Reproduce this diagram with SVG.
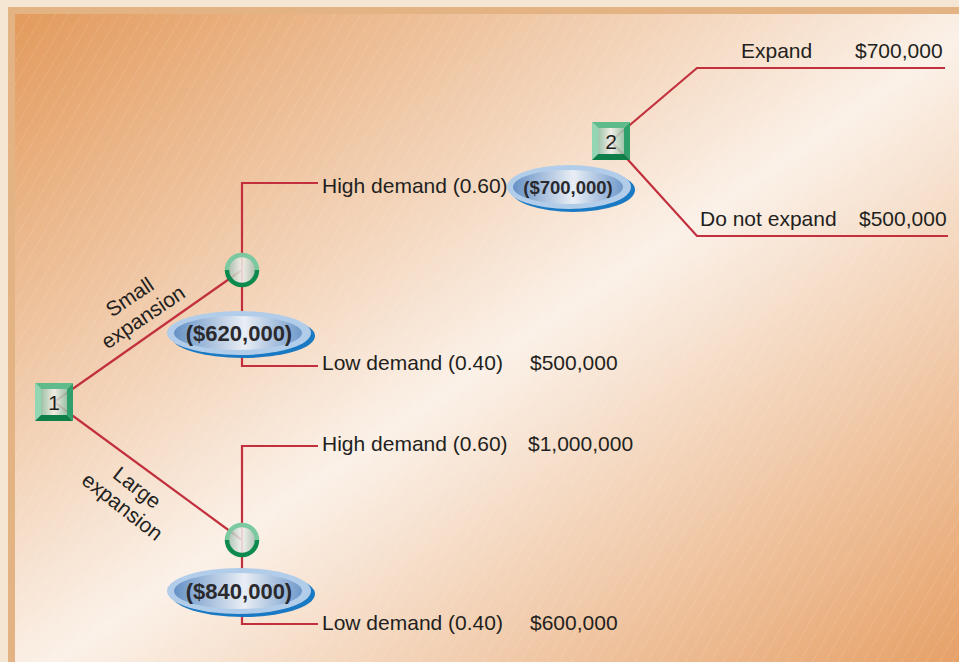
<svg xmlns="http://www.w3.org/2000/svg" width="959" height="662" viewBox="0 0 959 662">
<style>
.t{font-family:"Liberation Sans",Arial,sans-serif;font-size:21px;fill:#231f20}
.v{font-family:"Liberation Sans",Arial,sans-serif;font-size:22px;font-weight:bold;fill:#2a2a2e;text-anchor:middle}
.ln{stroke:#c2303e;stroke-width:2.2;fill:none}
</style>
<defs>
<linearGradient id="bg" x1="0" y1="0" x2="1" y2="1">
<stop offset="0" stop-color="#e39a5c"/>
<stop offset="0.52" stop-color="#fbf1e8"/>
<stop offset="1" stop-color="#e6a168"/>
</linearGradient>
<pattern id="hatch" patternUnits="userSpaceOnUse" width="11" height="11" patternTransform="rotate(30)">
<line x1="0" y1="0" x2="0" y2="11" stroke="#ffffff" stroke-width="1" stroke-opacity="0.28" stroke-dasharray="2 1"/>
</pattern>
<linearGradient id="face" x1="0" y1="0" x2="1" y2="0">
<stop offset="0" stop-color="#8fbfa6"/>
<stop offset="0.5" stop-color="#f0f0ea"/>
<stop offset="1" stop-color="#8fbfa6"/>
</linearGradient>
<linearGradient id="cface" x1="0" y1="0" x2="1" y2="0">
<stop offset="0" stop-color="#9ab7a8"/>
<stop offset="0.5" stop-color="#f2f2ee"/>
<stop offset="1" stop-color="#9ab7a8"/>
</linearGradient>
<linearGradient id="eface" x1="0" y1="0" x2="1" y2="0">
<stop offset="0" stop-color="#5f8cc2"/>
<stop offset="0.55" stop-color="#eef1f6"/>
<stop offset="1" stop-color="#6a95c8"/>
</linearGradient>
<g id="sq">
<polygon points="-19,-19 19,-19 13,-13 -13,-13" fill="#5fbb8c"/>
<polygon points="-19,-19 -13,-13 -13,13 -19,19" fill="#93d6b4"/>
<polygon points="19,-19 19,19 13,13 13,-13" fill="#2f9f6b"/>
<polygon points="-19,19 19,19 13,13 -13,13" fill="#0e7f49"/>
<rect x="-13" y="-13" width="26" height="26" fill="url(#face)" fill-opacity="0.85"/>
</g>
<g id="cir">
<circle r="15" fill="url(#cface)" fill-opacity="0.85"/>
<path d="M -15 0 A 15 15 0 0 1 15 0" fill="none" stroke="#7cc9a1" stroke-width="4.5"/>
<path d="M -15 0 A 15 15 0 0 0 15 0" fill="none" stroke="#0d8a4e" stroke-width="4.5"/>
</g>
</defs>

<rect x="0" y="0" width="959" height="662" fill="#f5e6d3"/>
<rect x="8" y="7" width="951" height="655" fill="#e4b384"/>
<rect x="15" y="14" width="944" height="648" fill="url(#bg)"/>
<rect x="15" y="14" width="944" height="648" fill="url(#hatch)"/>

<g id="connectors">
<line class="ln" x1="54" y1="402" x2="242" y2="270"/>
<line class="ln" x1="54" y1="402" x2="242" y2="540"/>
<polyline class="ln" points="318,183 242,183 242,366 318,366"/>
<polyline class="ln" points="318,446 242,446 242,624 318,624"/>
<polyline class="ln" points="945,68 697,68 611,141 697,236 948,236"/>
</g>

<g id="ev620">
<ellipse cx="243" cy="336" rx="72" ry="22" fill="#1a79c3"/>
<ellipse cx="239" cy="333" rx="72" ry="22" fill="#b2cdea"/>
<ellipse cx="238" cy="333" rx="64" ry="17" fill="url(#eface)" fill-opacity="0.92"/>
<text class="v" x="239" y="341">($620,000)</text>
</g>
<g id="ev840">
<ellipse cx="243" cy="594" rx="72" ry="23" fill="#1a79c3"/>
<ellipse cx="239" cy="591" rx="72" ry="23" fill="#b2cdea"/>
<ellipse cx="238" cy="591" rx="64" ry="18" fill="url(#eface)" fill-opacity="0.92"/>
<text class="v" x="239" y="599">($840,000)</text>
</g>
<g id="ev700">
<ellipse cx="573" cy="190" rx="62" ry="22" fill="#1a79c3"/>
<ellipse cx="569" cy="187" rx="62" ry="22" fill="#b2cdea"/>
<ellipse cx="568" cy="187" rx="55" ry="17" fill="url(#eface)" fill-opacity="0.92"/>
<text class="v" x="568" y="194" style="font-size:18.5px">($700,000)</text>
</g>

<g id="node1">
<use href="#sq" x="54" y="402"/>
<text class="t" x="54" y="410" text-anchor="middle">1</text>
</g>
<g id="node2">
<use href="#sq" x="611" y="141"/>
<text class="t" x="611" y="149" text-anchor="middle">2</text>
</g>
<g id="chance1"><use href="#cir" x="242" y="270"/></g>
<g id="chance2"><use href="#cir" x="242" y="540"/></g>

<g id="labels">
<g transform="translate(137,308) rotate(-34)">
<text class="t" x="0" y="-6" text-anchor="middle">Small</text>
<text class="t" x="0" y="18" text-anchor="middle">expansion</text>
</g>
<g transform="translate(129,498) rotate(38)">
<text class="t" x="0" y="-6" text-anchor="middle">Large</text>
<text class="t" x="0" y="18" text-anchor="middle">expansion</text>
</g>
<text class="t" x="741" y="58">Expand</text>
<text class="t" x="855" y="58">$700,000</text>
<text class="t" x="700" y="226">Do not expand</text>
<text class="t" x="859" y="226">$500,000</text>
<text class="t" x="322" y="193">High demand (0.60)</text>
<text class="t" x="322" y="370">Low demand (0.40)</text>
<text class="t" x="530" y="370">$500,000</text>
<text class="t" x="322" y="451">High demand (0.60)</text>
<text class="t" x="528" y="451">$1,000,000</text>
<text class="t" x="322" y="630">Low demand (0.40)</text>
<text class="t" x="530" y="630">$600,000</text>
</g>
</svg>
